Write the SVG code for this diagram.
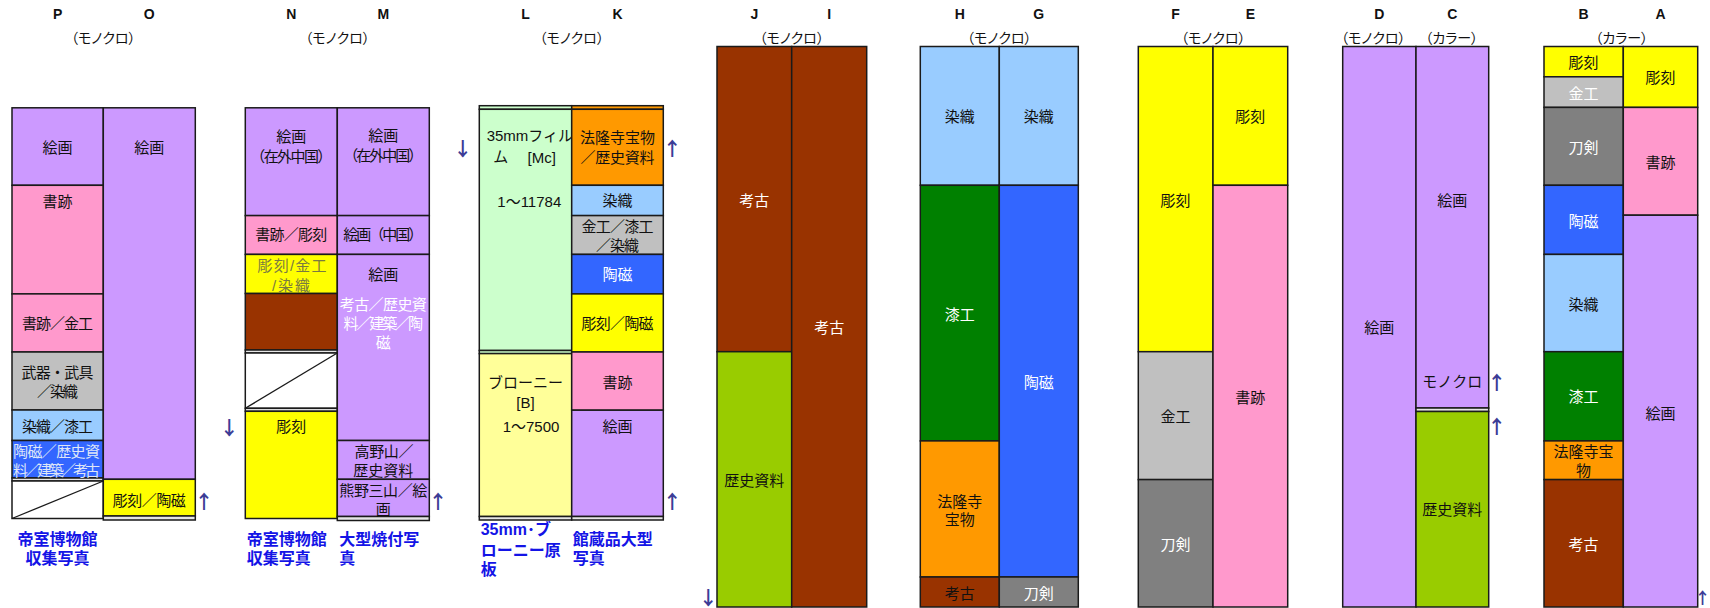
<svg xmlns="http://www.w3.org/2000/svg" width="1710" height="608" viewBox="0 0 1710 608">
<style>
rect.c{stroke:#1a1a1a;stroke-width:1.5}
.pu{fill:#CC99FF}.pk{fill:#FF99CC}.gy{fill:#C0C0C0}.dg{fill:#808080}.lb{fill:#99CCFF}.bl{fill:#3366FF}.ye{fill:#FFFF00}.br{fill:#993300}.lg{fill:#CCFFCC}.ly{fill:#FFFF99}.or{fill:#FF9900}.gr{fill:#99CC00}.gn{fill:#008000}.wh{fill:#FFFFFF}.st{fill:#E6E6E6}
line.d{stroke:#1a1a1a;stroke-width:1.3}
text{font-family:"Liberation Sans","Noto Sans CJK JP",sans-serif;font-size:15px;text-anchor:middle;dominant-baseline:central;fill:#111}
text.w{fill:#FFFFFF}
text.lt{fill:#DFE6F7}
text.ol{fill:#7A7A40}
text.hd{font-weight:bold;font-size:14px}
text.sub{font-size:14px;font-feature-settings:"palt"}
text.lab{font-weight:bold;font-size:16px;fill:#1414E6;text-anchor:start}
text.ar{fill:#3C3C96;font-family:"Noto Sans CJK JP",sans-serif;font-size:19px;font-weight:bold}
text.s{text-anchor:start}
</style>

<g id="headers">
<text class="hd" x="57.6" y="13.6">P</text>
<text class="hd" x="149.3" y="13.6">O</text>
<text class="hd" x="291.3" y="13.6">N</text>
<text class="hd" x="383.3" y="13.6">M</text>
<text class="hd" x="525.5" y="13.6">L</text>
<text class="hd" x="617.5" y="13.6">K</text>
<text class="hd" x="754.3" y="13.6">J</text>
<text class="hd" x="829.2" y="13.6">I</text>
<text class="hd" x="959.8" y="13.6">H</text>
<text class="hd" x="1038.8" y="13.6">G</text>
<text class="hd" x="1175.6" y="13.6">F</text>
<text class="hd" x="1250.3" y="13.6">E</text>
<text class="hd" x="1379.3" y="13.6">D</text>
<text class="hd" x="1452.3" y="13.6">C</text>
<text class="hd" x="1583.6" y="13.6">B</text>
<text class="hd" x="1660.5" y="13.6">A</text>
<text class="sub" x="103.3" y="37.6">（モノクロ）</text>
<text class="sub" x="337.5" y="37.6">（モノクロ）</text>
<text class="sub" x="571.7" y="37.6">（モノクロ）</text>
<text class="sub" x="791.7" y="37.6">（モノクロ）</text>
<text class="sub" x="999.3" y="37.6">（モノクロ）</text>
<text class="sub" x="1213.3" y="37.6">（モノクロ）</text>
<text class="sub" x="1373.3" y="37.6">（モノクロ）</text>
<text class="sub" x="1451.7" y="37.6">（カラー）</text>
<text class="sub" x="1621.7" y="37.6">（カラー）</text>
</g>

<g id="col-P">
<rect class="c pu" x="12" y="107.8" width="91.3" height="77.5"/>
<rect class="c pk" x="12" y="185.3" width="91.3" height="108.6"/>
<rect class="c pk" x="12" y="293.9" width="91.3" height="58.1"/>
<rect class="c gy" x="12" y="352" width="91.3" height="58"/>
<rect class="c lb" x="12" y="410" width="91.3" height="30.5"/>
<rect class="c bl" x="12" y="440.5" width="91.3" height="37.5"/>
<rect class="c st" x="12" y="478" width="91.3" height="3"/>
<rect class="c wh" x="12" y="481" width="91.3" height="37.5"/>
<line class="d" x1="12" y1="518.5" x2="103.3" y2="481"/>
<text x="57.6" y="147.3">絵画</text>
<text x="57.6" y="201.6">書跡</text>
<text x="57.6" y="323" textLength="71" lengthAdjust="spacing">書跡／金工</text>
<text x="57.6" y="372.2" textLength="72" lengthAdjust="spacing">武器・武具</text>
<text x="57.6" y="391.6" textLength="41" lengthAdjust="spacing">／染織</text>
<text x="57.6" y="426.5" textLength="71" lengthAdjust="spacing">染織／漆工</text>
<text class="lt" x="56.5" y="451" textLength="87" lengthAdjust="spacing">陶磁／歴史資</text>
<text class="lt" x="56.5" y="470.3" textLength="87" lengthAdjust="spacing">料／建築／考古</text>
<text class="lab" x="57.6" y="539" style="text-anchor:middle">帝室博物館</text>
<text class="lab" x="57.6" y="558" style="text-anchor:middle">収集写真</text>
</g>

<g id="col-O">
<rect class="c pu" x="103.3" y="107.8" width="92" height="371.5"/>
<rect class="c ye" x="103.3" y="479.3" width="92" height="36.7"/>
<rect class="c st" x="103.3" y="516" width="92" height="4"/>
<text x="149.3" y="147.3">絵画</text>
<text x="149.3" y="500" textLength="73" lengthAdjust="spacing">彫刻／陶磁</text>
</g>

<g id="col-N">
<rect class="c pu" x="245.3" y="107.8" width="92" height="107.8"/>
<rect class="c pk" x="245.3" y="215.6" width="92" height="38.8"/>
<rect class="c ye" x="245.3" y="254.4" width="92" height="39.1"/>
<rect class="c br" x="245.3" y="293.5" width="92" height="56.5"/>
<rect class="c st" x="245.3" y="350" width="92" height="3"/>
<rect class="c wh" x="245.3" y="353" width="92" height="55.3"/>
<line class="d" x1="245.3" y1="408.3" x2="337.3" y2="353"/>
<rect class="c st" x="245.3" y="408.3" width="92" height="3"/>
<rect class="c ye" x="245.3" y="411.3" width="92" height="107.2"/>
<text x="291.3" y="136.9">絵画</text>
<text x="291.3" y="156.3" textLength="82" lengthAdjust="spacing">（在外中国）</text>
<text x="291.3" y="234.6" textLength="72" lengthAdjust="spacing">書跡／彫刻</text>
<text class="ol" x="292" y="265.6" textLength="69" lengthAdjust="spacing">彫刻/金工</text>
<text class="ol" x="291" y="285" textLength="38" lengthAdjust="spacing">/染織</text>
<text x="291.3" y="426.5">彫刻</text>
<text class="lab" x="246.7" y="539">帝室博物館</text>
<text class="lab" x="246.7" y="558">収集写真</text>
</g>

<g id="col-M">
<rect class="c pu" x="337.3" y="107.8" width="92" height="107.8"/>
<rect class="c pu" x="337.3" y="215.6" width="92" height="38.8"/>
<rect class="c pu" x="337.3" y="254.4" width="92" height="186.1"/>
<rect class="c pu" x="337.3" y="440.5" width="92" height="38.8"/>
<rect class="c pu" x="337.3" y="479.3" width="92" height="37.2"/>
<rect class="c st" x="337.3" y="516.5" width="92" height="4"/>
<text x="383.3" y="135.7">絵画</text>
<text x="383.3" y="155.1" textLength="80" lengthAdjust="spacing">（在外中国）</text>
<text x="383.3" y="234.6" textLength="80" lengthAdjust="spacing">絵画（中国）</text>
<text x="383.3" y="274.5">絵画</text>
<text class="w" x="383.3" y="304.4" textLength="87" lengthAdjust="spacing">考古／歴史資</text>
<text class="w" x="383.3" y="323" textLength="79.5" lengthAdjust="spacing">料／建築／陶</text>
<text class="w" x="383.3" y="342">磁</text>
<text x="384" y="451" textLength="59" lengthAdjust="spacing">高野山／</text>
<text x="383.3" y="470.3">歴史資料</text>
<text x="383.3" y="490.5" textLength="88" lengthAdjust="spacing">熊野三山／絵</text>
<text x="383.3" y="509.1">画</text>
<text class="lab" x="339.3" y="539">大型焼付写</text>
<text class="lab" x="339.3" y="558">真</text>
</g>

<g id="col-L">
<rect class="c lg" x="479.3" y="105.7" width="92.4" height="3.6"/>
<rect class="c lg" x="479.3" y="109.3" width="92.4" height="241.2"/>
<rect class="c lg" x="479.3" y="350.5" width="92.4" height="3.1"/>
<rect class="c ly" x="479.3" y="353.6" width="92.4" height="162.9"/>
<rect class="c st" x="479.3" y="516.5" width="92.4" height="3.5"/>
<text class="s" x="486.7" y="135.7">35mmフィル</text>
<text class="s" x="493.3" y="156.6">ム<tspan x="527.5">[Mc]</tspan></text>
<text class="s" x="497.3" y="201.6">1～11784</text>
<text x="525.5" y="382">ブローニー</text>
<text x="525.5" y="402.5">[B]</text>
<text x="531" y="426.5">1～7500</text>
<text class="lab" x="480.7" y="529">35mm･ブ</text>
<text class="lab" x="480.7" y="550">ローニー原</text>
<text class="lab" x="480.7" y="569">板</text>
</g>

<g id="col-K">
<rect class="c or" x="571.7" y="105.7" width="91.6" height="3.6"/>
<rect class="c or" x="571.7" y="109.3" width="91.6" height="76"/>
<rect class="c lb" x="571.7" y="185.3" width="91.6" height="30.3"/>
<rect class="c gy" x="571.7" y="215.6" width="91.6" height="38.8"/>
<rect class="c bl" x="571.7" y="254.4" width="91.6" height="39.5"/>
<rect class="c ye" x="571.7" y="293.9" width="91.6" height="58.1"/>
<rect class="c pk" x="571.7" y="352" width="91.6" height="58.2"/>
<rect class="c pu" x="571.7" y="410.2" width="91.6" height="106.3"/>
<rect class="c st" x="571.7" y="516.5" width="91.6" height="3.5"/>
<text x="617.5" y="137.6">法隆寺宝物</text>
<text x="617.5" y="157" textLength="74" lengthAdjust="spacing">／歴史資料</text>
<text x="617.5" y="200.9">染織</text>
<text x="617.5" y="226.8" textLength="72" lengthAdjust="spacing">金工／漆工</text>
<text x="617.5" y="245.4" textLength="43" lengthAdjust="spacing">／染織</text>
<text class="w" x="617.5" y="274.5">陶磁</text>
<text x="617.5" y="323" textLength="72" lengthAdjust="spacing">彫刻／陶磁</text>
<text x="617.5" y="382">書跡</text>
<text x="617.5" y="426.5">絵画</text>
<text class="lab" x="572.7" y="539">館蔵品大型</text>
<text class="lab" x="572.7" y="558">写真</text>
</g>

<g id="col-J">
<rect class="c br" x="717" y="46.5" width="74.7" height="305.2"/>
<rect class="c gr" x="717" y="351.7" width="74.7" height="255.3"/>
<text class="w" x="754.3" y="200.9">考古</text>
<text x="754.3" y="480.8">歴史資料</text>
</g>

<g id="col-I">
<rect class="c br" x="791.7" y="46.5" width="75" height="560.5"/>
<text class="w" x="829.2" y="327.6">考古</text>
</g>

<g id="col-H">
<rect class="c lb" x="920.3" y="46.5" width="79" height="138.8"/>
<rect class="c gn" x="920.3" y="185.3" width="79" height="255.6"/>
<rect class="c or" x="920.3" y="440.9" width="79" height="136.1"/>
<rect class="c br" x="920.3" y="577" width="79" height="30"/>
<text x="959.8" y="116.3">染織</text>
<text class="w" x="959.8" y="314">漆工</text>
<text x="959.8" y="501">法隆寺</text>
<text x="959.8" y="519.6">宝物</text>
<text x="959.8" y="593">考古</text>
</g>

<g id="col-G">
<rect class="c lb" x="999.3" y="46.5" width="79" height="138.8"/>
<rect class="c bl" x="999.3" y="185.3" width="79" height="391.7"/>
<rect class="c dg" x="999.3" y="577" width="79" height="30"/>
<text x="1038.8" y="116.3">染織</text>
<text class="w" x="1038.8" y="382">陶磁</text>
<text class="w" x="1038.8" y="593">刀剣</text>
</g>

<g id="col-F">
<rect class="c ye" x="1138.3" y="46.5" width="74.7" height="305.2"/>
<rect class="c gy" x="1138.3" y="351.7" width="74.7" height="127.9"/>
<rect class="c dg" x="1138.3" y="479.6" width="74.7" height="127.4"/>
<text x="1175.6" y="200.9">彫刻</text>
<text x="1175.6" y="416.8">金工</text>
<text class="w" x="1175.6" y="544.8">刀剣</text>
</g>

<g id="col-E">
<rect class="c ye" x="1213" y="46.5" width="74.7" height="138.8"/>
<rect class="c pk" x="1213" y="185.3" width="74.7" height="421.7"/>
<text x="1250.3" y="116.3">彫刻</text>
<text x="1250.3" y="397.4">書跡</text>
</g>

<g id="col-D">
<rect class="c pu" x="1342.7" y="46.5" width="73.3" height="560.5"/>
<text x="1379.3" y="327.6">絵画</text>
</g>

<g id="col-C">
<rect class="c pu" x="1416" y="46.5" width="72.7" height="361.5"/>
<rect class="c st" x="1416" y="408" width="72.7" height="3.5"/>
<rect class="c gr" x="1416" y="411.5" width="72.7" height="195.5"/>
<text x="1452.3" y="200.9">絵画</text>
<text x="1452.3" y="381.2">モノクロ</text>
<text x="1452.3" y="509.9">歴史資料</text>
</g>

<g id="col-B">
<rect class="c ye" x="1544" y="46.5" width="79.3" height="30.3"/>
<rect class="c gy" x="1544" y="76.8" width="79.3" height="30.6"/>
<rect class="c dg" x="1544" y="107.4" width="79.3" height="77.9"/>
<rect class="c bl" x="1544" y="185.3" width="79.3" height="69.1"/>
<rect class="c lb" x="1544" y="254.4" width="79.3" height="97.3"/>
<rect class="c gn" x="1544" y="351.7" width="79.3" height="89.2"/>
<rect class="c or" x="1544" y="440.9" width="79.3" height="38.7"/>
<rect class="c br" x="1544" y="479.6" width="79.3" height="127.4"/>
<text x="1583.6" y="62">彫刻</text>
<text class="w" x="1583.6" y="93">金工</text>
<text class="w" x="1583.6" y="147.3">刀剣</text>
<text class="w" x="1583.6" y="221">陶磁</text>
<text x="1583.6" y="304.4">染織</text>
<text class="w" x="1583.6" y="396.3">漆工</text>
<text x="1583.6" y="451">法隆寺宝</text>
<text x="1583.6" y="470.3">物</text>
<text class="w" x="1583.6" y="544.8">考古</text>
</g>

<g id="col-A">
<rect class="c ye" x="1623.3" y="46.5" width="74.4" height="60.9"/>
<rect class="c pk" x="1623.3" y="107.4" width="74.4" height="107.8"/>
<rect class="c pu" x="1623.3" y="215.2" width="74.4" height="391.8"/>
<text x="1660.5" y="77.5">彫刻</text>
<text x="1660.5" y="162.9">書跡</text>
<text x="1660.5" y="413">絵画</text>
</g>

<g id="arrows">
<text class="ar" x="204" y="500">↑</text>
<text class="ar" x="229.3" y="426.5">↓</text>
<text class="ar" x="438" y="500">↑</text>
<text class="ar" x="462.7" y="147.3">↓</text>
<text class="ar" x="672.3" y="147.3">↑</text>
<text class="ar" x="672.3" y="500">↑</text>
<text class="ar" x="708.3" y="596.5">↓</text>
<text class="ar" x="1496.7" y="381">↑</text>
<text class="ar" x="1496.7" y="425.7">↑</text>
<text class="ar" x="1702.5" y="597" style="font-size:16px">↑</text>
</g>
</svg>
